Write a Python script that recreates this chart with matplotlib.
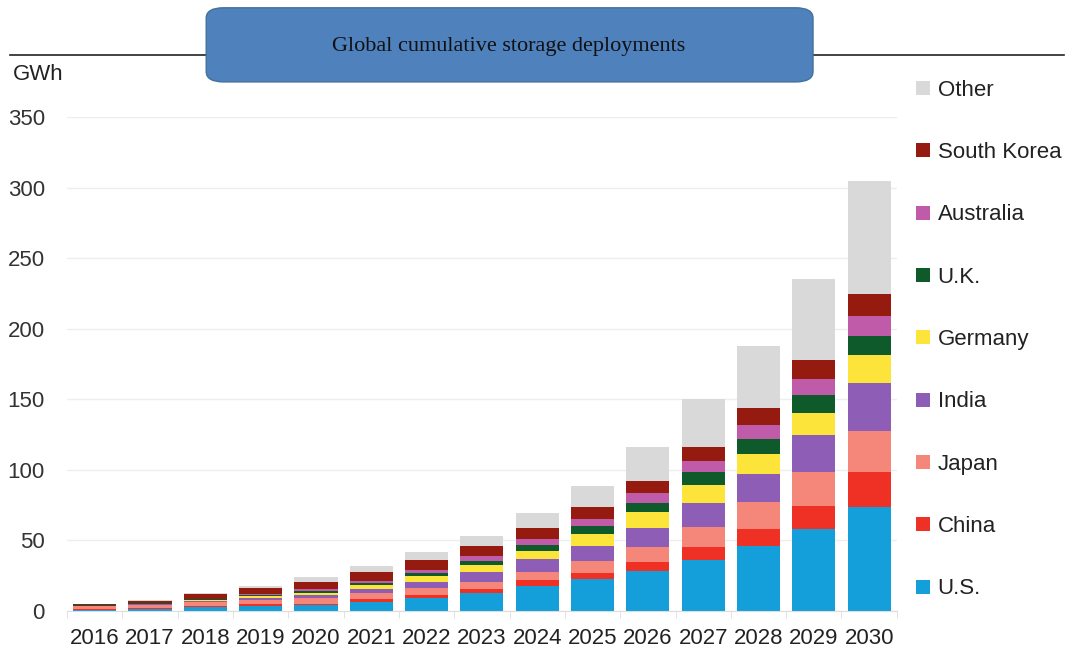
import numpy as np
import matplotlib
matplotlib.use('Agg')
import matplotlib.pyplot as plt
from matplotlib.patches import FancyBboxPatch
from matplotlib.lines import Line2D

# Values (GWh, per-country segment of each stacked bar)
years = ['2016', '2017', '2018', '2019', '2020', '2021', '2022', '2023',
         '2024', '2025', '2026', '2027', '2028', '2029', '2030']
us = [0.8, 1.3, 2.6, 3.5, 4.0, 6.5, 9.0, 12.5, 17.7, 22.5, 28.3, 36.1, 46.1, 57.9, 73.9]
china = [0.5, 0.8, 1.0, 1.5, 1.2, 1.8, 2.3, 3.1, 4.3, 4.7, 6.6, 9.0, 11.8, 16.5, 24.8]
japan = [2.0, 2.4, 2.5, 3.0, 4.2, 4.1, 4.8, 4.7, 5.9, 8.5, 10.7, 14.6, 19.6, 23.9, 29.1]
india = [0.2, 0.3, 0.8, 1.5, 1.7, 3.5, 4.7, 7.1, 8.7, 10.4, 13.2, 17.1, 19.6, 26.2, 33.6]
germany = [0.3, 0.4, 0.8, 1.2, 1.9, 2.4, 4.0, 5.0, 6.1, 8.5, 11.4, 12.3, 14.2, 16.1, 20.0]
uk = [0.2, 0.3, 0.5, 0.8, 1.2, 1.4, 2.4, 2.8, 4.1, 5.6, 6.6, 9.4, 10.8, 12.3, 13.5]
australia = [0.2, 0.3, 0.5, 0.8, 1.2, 1.5, 1.9, 3.8, 4.4, 5.2, 6.6, 7.8, 9.7, 11.5, 14.4]
south_korea = [0.5, 1.3, 3.0, 4.0, 5.4, 6.3, 7.0, 7.1, 7.6, 8.1, 8.7, 10.2, 12.3, 13.5, 15.1]
other = [0.3, 0.5, 0.7, 1.2, 3.3, 4.7, 5.5, 7.3, 10.4, 15.3, 24.4, 33.8, 43.7, 57.2, 80.3]

series = [
    ('U.S.', us, '#149fda'),
    ('China', china, '#ee3124'),
    ('Japan', japan, '#f4877a'),
    ('India', india, '#8e5db5'),
    ('Germany', germany, '#fce43a'),
    ('U.K.', uk, '#0e5a2a'),
    ('Australia', australia, '#bf5ba8'),
    ('South Korea', south_korea, '#951b10'),
    ('Other', other, '#d9d9d9'),
]

plt.rcParams['font.family'] = ['Liberation Sans', 'DejaVu Sans']

fig = plt.figure(figsize=(10.74, 6.5), dpi=100)
ax = fig.add_axes([0.0624, 0.06, 0.7726, 0.76])

x = np.arange(len(years))
bottom = np.zeros(len(years))
handles = []
for name, vals, col in series:
    vals = np.array(vals)
    b = ax.bar(x, vals, bottom=bottom, width=0.78, color=col, label=name, zorder=2)
    bottom += vals
    handles.append(b)

ax.set_xlim(-0.5, 14.5)
ax.set_ylim(0, 350)
ax.set_yticks(np.arange(0, 351, 50))
ax.set_xticks(x)
ax.set_xticklabels(years)
ax.set_xticks(np.arange(-0.5, 15, 1), minor=True)
ax.tick_params(axis='x', which='major', length=0, pad=12, labelsize=16, colors='#222222')
ax.tick_params(axis='x', which='minor', length=5, color='#dddddd', direction='out')
ax.tick_params(axis='y', length=0, pad=16, labelsize=16, colors='#333333')
ax.grid(axis='y', color='#eeeeee', linewidth=1, zorder=0)
for s in ['top', 'right', 'left']:
    ax.spines[s].set_visible(False)
ax.spines['bottom'].set_color('#dddddd')

fig.text(0.012, 0.886, 'GWh', fontsize=16, color='#222222', va='center')

leg = ax.legend(handles[::-1], [s[0] for s in series][::-1],
                loc='upper left', bbox_to_anchor=(0.845, 0.891),
                bbox_transform=fig.transFigure, frameon=False,
                fontsize=16, handlelength=0.6, handleheight=0.6,
                handletextpad=0.35, labelspacing=1.86, borderaxespad=0)
for t in leg.get_texts():
    t.set_color('#222222')

# Header line and title box
fig.add_artist(Line2D([0.009, 0.991], [0.915, 0.915], transform=fig.transFigure,
                      color='#222222', linewidth=1.2, zorder=1))
box = FancyBboxPatch((0.192, 0.874), 0.565, 0.114, transform=fig.transFigure,
                     boxstyle='round,pad=0,rounding_size=0.016',
                     facecolor='#4f81bd', edgecolor='#41719c', linewidth=1, zorder=3)
fig.add_artist(box)
fig.text(0.474, 0.929, 'Global cumulative storage deployments', ha='center', va='center',
         fontsize=16, family='Liberation Serif', color='#111111', zorder=4)

fig.savefig('out.png', dpi=100)
